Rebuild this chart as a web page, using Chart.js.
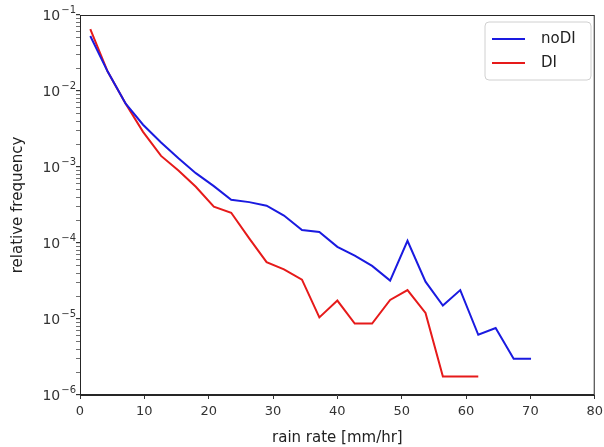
<!DOCTYPE html>
<html>
<head>
<meta charset="utf-8">
<script src="https://cdn.jsdelivr.net/npm/chart.js@4"></script>
<style>
  html, body { margin: 0; padding: 0; background: #fff; overflow: hidden; }
  #wrap { width: 608px; height: 447px; }
</style>
</head>
<body>
<div id="wrap"><canvas id="rain-chart"></canvas></div>
<script>
/* datos */
const rainRate = [1.6, 4.3, 7.1, 9.8, 12.6, 15.3, 18.0, 20.8, 23.5, 26.3, 29.0, 31.7, 34.5,
                  37.2, 40.0, 42.7, 45.4, 48.2, 50.9, 53.7, 56.4, 59.1, 61.9, 64.6, 67.4, 70.1]

const noDI = [0.053, 0.018, 0.0068, 0.0036, 0.0021, 0.0013, 0.00083, 0.00056, 0.00037, 0.000345,
              0.00031, 0.00023, 0.000148, 0.00014, 0.000089, 0.000068, 0.00005, 0.000032, 0.000107,
              0.000031, 0.000015, 0.000024, 0.0000062, 0.0000076, 0.000003, 0.000003]

const DI = [0.065, 0.018, 0.0068, 0.0029, 0.0014, 0.0009, 0.00055, 0.0003, 0.00025, 0.000115,
            0.000056, 0.000045, 0.000033, 0.0000105, 0.0000175, 0.0000087, 0.0000087, 0.0000178,
            0.000024, 0.000012, 0.00000175, 0.00000175, 0.00000175]

const xTicks = [0, 10, 20, 30, 40, 50, 60, 70, 80]
const yDecades = [-6, -5, -4, -3, -2, -1]

function toPoints(values) {
    return values.map((v, i) => ({ x: rainRate[i], y: v }))
}

/* marco completo, etiquetas 10^n y leyenda estilo matplotlib */
const frameAndLegend = {
    id: "frameAndLegend",
    afterDraw(chart) {
        const ctx = chart.ctx
        const a = chart.chartArea
        const yScale = chart.scales.y
        ctx.save()
        ctx.strokeStyle = "#262626"
        ctx.lineWidth = 1
        ctx.strokeRect(a.left + 0.5, a.top + 0.5, a.right - a.left - 1, a.bottom - a.top - 1)

        // etiquetas del eje y con exponente
        ctx.fillStyle = "#333"
        ctx.textBaseline = "middle"
        yDecades.forEach(d => {
            const py = yScale.getPixelForValue(Math.pow(10, d))
            const exp = "\u2212" + Math.abs(d)
            ctx.font = "10px 'DejaVu Sans'"
            const ew = ctx.measureText(exp).width
            ctx.textAlign = "right"
            ctx.fillText(exp, a.left - 4, py - 5)
            ctx.font = "14px 'DejaVu Sans'"
            ctx.fillText("10", a.left - 5 - ew, py + 1)
        })

        // leyenda
        const bx = 485, by = 22, bw = 106, bh = 58
        ctx.fillStyle = "rgba(255,255,255,0.8)"
        ctx.strokeStyle = "#d0d0d0"
        ctx.beginPath()
        ctx.roundRect(bx, by, bw, bh, 4)
        ctx.fill()
        ctx.stroke()
        ctx.font = "15px 'DejaVu Sans'"
        ctx.textAlign = "left"
        ctx.textBaseline = "middle"
        chart.data.datasets.forEach((ds, i) => {
            const y = by + 17 + i * 24
            ctx.strokeStyle = ds.borderColor
            ctx.lineWidth = 2
            ctx.beginPath()
            ctx.moveTo(bx + 7, y)
            ctx.lineTo(bx + 40, y)
            ctx.stroke()
            ctx.fillStyle = "#222"
            ctx.fillText(ds.label, bx + 56, y)
        })
        ctx.restore()
    }
}

const ctxRain = document.querySelector("#rain-chart").getContext("2d")

const rainChart = new Chart(ctxRain, {
    type: "scatter",
    data: {
        datasets: [
            {
                label: "noDI",
                data: toPoints(noDI),
                borderColor: "#1a1ae0",
                borderWidth: 2,
                showLine: true,
                pointRadius: 0,
                tension: 0,
            },
            {
                label: "DI",
                data: toPoints(DI),
                borderColor: "#e61a1a",
                borderWidth: 2,
                showLine: true,
                pointRadius: 0,
                tension: 0,
            },
        ]
    },
    options: {
        responsive: true,
        maintainAspectRatio: false,
        animation: false,
        layout: { padding: { top: 15, left: 0, right: 0, bottom: 0 } },
        plugins: {
            legend: { display: false },
            tooltip: { enabled: false },
        },
        scales: {
            x: {
                type: "linear",
                min: 0,
                max: 80,
                afterBuildTicks: (scale) => { scale.ticks = xTicks.map(v => ({ value: v })) },
                afterFit: (scale) => { scale.height = 52 },
                ticks: {
                    color: "#333",
                    font: { family: "DejaVu Sans", size: 13 },
                    padding: 5,
                    maxRotation: 0,
                },
                grid: { drawOnChartArea: false, drawTicks: true, tickLength: 4, color: "#333" },
                border: { color: "#262626" },
                title: {
                    display: true,
                    text: "rain rate [mm/hr]",
                    color: "#222",
                    font: { family: "DejaVu Sans", size: 15 },
                    padding: { top: 2, bottom: 0 },
                },
            },
            y: {
                type: "logarithmic",
                min: 1e-6,
                max: 1e-1,
                afterBuildTicks: (scale) => {
                    const t = []
                    yDecades.forEach(d => {
                        t.push({ value: Math.pow(10, d), major: true })
                        if (d < -1) {
                            for (let m = 2; m <= 9; m++) t.push({ value: m * Math.pow(10, d) })
                        }
                    })
                    scale.ticks = t
                },
                afterFit: (scale) => { scale.width = 80 },
                ticks: {
                    autoSkip: false,
                    callback: () => "",
                },
                grid: {
                    drawOnChartArea: false,
                    drawTicks: true,
                    tickLength: 4,
                    color: "#333",
                    lineWidth: (c) => (c.tick && c.tick.major ? 1.2 : 0.7),
                },
                border: { color: "#262626" },
                title: {
                    display: true,
                    text: "relative frequency",
                    color: "#222",
                    font: { family: "DejaVu Sans", size: 15 },
                    padding: { top: 9, bottom: 4 },
                },
            },
        },
    },
    plugins: [frameAndLegend],
})
</script>
</body>
</html>
